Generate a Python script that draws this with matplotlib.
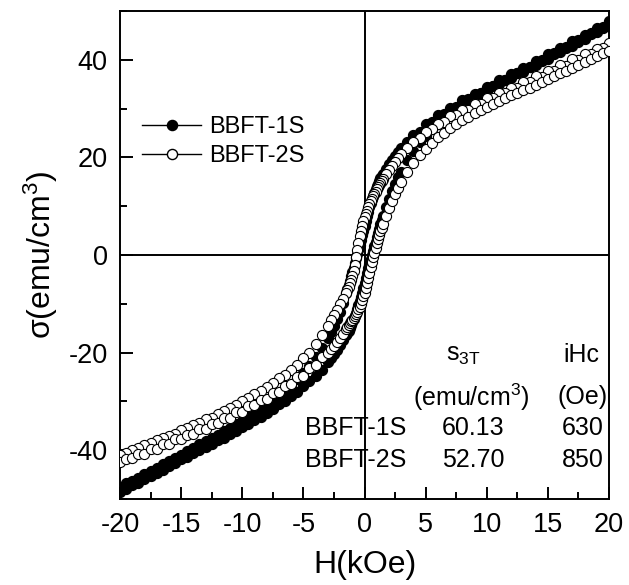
import numpy as np
import matplotlib
matplotlib.use('Agg')
import matplotlib.pyplot as plt
from matplotlib.lines import Line2D
from matplotlib.ticker import MultipleLocator

plt.rcParams['font.family'] = ['Liberation Sans', 'DejaVu Sans']
plt.rcParams['mathtext.fontset'] = 'custom'
plt.rcParams['mathtext.rm'] = 'Liberation Sans'
plt.rcParams['mathtext.it'] = 'Liberation Sans:italic'
plt.rcParams['axes.unicode_minus'] = False

# field sweep from +20 kOe down to -20 kOe (the up sweep is the same points reversed)
H_down = [20, 19.5, 19, 18.5, 18, 17.5, 17, 16.5, 16, 15.5, 15, 14.5, 14, 13.5, 13, 12.5,
          12, 11.5, 11, 10.5, 10, 9.5, 9, 8.5, 8, 7.5, 7, 6.5, 6, 5.5, 5, 4.5, 4, 3.5,
          3.0, 2.75, 2.5, 2.25, 2.0, 1.75,
          1.5, 1.4, 1.3, 1.2, 1.1, 1.0, 0.9, 0.8, 0.7, 0.6, 0.5, 0.4, 0.3, 0.2, 0.1, 0.0,
          -0.1, -0.2, -0.3, -0.4, -0.5, -0.6, -0.7, -0.8, -0.9, -1.0, -1.1, -1.2, -1.3, -1.4, -1.5,
          -1.75, -2.0, -2.25, -2.5, -2.75, -3.0,
          -3.5, -4, -4.5, -5, -5.5, -6, -6.5, -7, -7.5, -8, -8.5, -9, -9.5, -10, -10.5, -11,
          -11.5, -12, -12.5, -13, -13.5, -14, -14.5, -15, -15.5, -16, -16.5, -17, -17.5, -18,
          -18.5, -19, -19.5, -20]
H_up = H_down[::-1]

# BBFT-1S (filled circles)
s1_down = [47.9, 46.8, 46.6, 45.4, 45.1, 44.0, 43.8, 42.6, 42.5, 41.3, 41.1, 40.0, 39.8, 38.6,
           38.4, 37.3, 37.0, 35.9, 35.8, 34.6, 34.4, 33.2, 33.0, 31.9, 31.7, 30.4, 30.1, 28.9,
           28.6, 27.2, 26.8, 25.3, 24.6, 23.1,
           21.9, 21.2, 20.3, 19.5, 18.7, 17.6,
           16.6, 16.2, 15.7, 15.2, 14.6, 14.1, 13.5, 12.8, 12.1, 11.4, 10.6, 9.8, 8.9, 8.0, 7.0, 6.0,
           5.0, 4.0, 3.0, 2.0, 1.1, 0.2, -0.7, -1.7, -2.6, -3.5, -4.4, -5.3, -6.2, -7.0, -7.8,
           -9.8, -11.6, -13.1, -14.5, -15.8, -17.0,
           -19.0, -21.0, -22.7, -24.2, -25.4, -26.8, -28.0, -29.0, -29.9, -30.8, -31.6, -32.6,
           -33.2, -34.1, -34.7, -35.4, -36.1, -36.8, -37.5, -38.2, -38.8, -39.5, -40.1, -40.9,
           -41.6, -42.2, -42.9, -43.6, -44.3, -44.9, -45.6, -46.3, -46.8, -47.5]
s1_up = [-48.5, -47.9, -47.2, -46.7, -45.9, -45.3, -44.6, -44.0, -43.2, -42.7, -41.9, -41.4,
         -40.6, -40.0, -39.3, -38.7, -37.9, -37.4, -36.6, -36.0, -35.2, -34.7, -33.8, -33.2,
         -32.3, -31.6, -30.6, -29.9, -28.9, -28.0, -26.9, -25.9, -24.7, -23.5,
         -21.9, -21.1, -20.3, -19.4, -18.5, -17.5,
         -16.4, -16.0, -15.5, -15.0, -14.4, -13.8, -13.2, -12.5, -11.8, -11.1, -10.3, -9.5, -8.6,
         -7.7, -6.7, -5.7, -4.7, -3.7, -2.7, -1.8, -0.9, -0.1, 0.8, 1.8, 2.7, 3.6, 4.5, 5.4, 6.3,
         7.1, 7.9,
         9.8, 11.5, 13.1, 14.5, 15.9, 17.1,
         19.4, 21.4, 23.1, 24.4, 25.9, 26.9, 28.2, 29.0, 30.1, 30.7, 31.7, 32.2, 33.2, 33.7,
         34.6, 35.0, 35.9, 36.3, 37.2, 37.6, 38.5, 38.9, 39.8, 40.2, 41.1, 41.6, 42.4, 42.9,
         43.7, 44.2, 45.2, 45.6, 46.5, 47.0]

# BBFT-2S (open circles)
s2_down = [43.4, 42.4, 42.3, 41.2, 41.1, 40.0, 40.1, 38.8, 38.9, 37.7, 37.7, 36.5, 36.6, 35.4,
           35.5, 34.3, 34.3, 33.2, 33.2, 32.1, 32.1, 31.0, 31.0, 29.8, 29.8, 28.6, 28.4, 27.3,
           26.9, 25.8, 25.2, 24.0, 23.2, 21.9,
           20.6, 19.9, 19.1, 18.3, 17.4, 16.5,
           15.5, 15.1, 14.7, 14.3, 13.9, 13.5, 13.0, 12.5, 12.0, 11.5, 11.0, 10.4, 9.8, 9.1, 8.4,
           7.7, 6.9, 6.0, 5.0, 3.8, 2.5, 1.0, -0.5, -2.0, -3.3, -4.3, -5.1, -5.8, -6.5, -7.1, -7.7,
           -9.0, -10.1, -11.2, -12.3, -13.4, -14.5,
           -16.4, -18.3, -20.0, -21.2, -22.5, -23.5, -24.5, -25.3, -26.3, -27.0, -27.9, -28.5,
           -29.4, -30.0, -30.7, -31.3, -32.0, -32.6, -33.3, -33.7, -34.4, -34.8, -35.5, -35.9,
           -36.6, -37.0, -37.6, -38.0, -38.6, -39.0, -39.6, -40.0, -40.6, -40.9]
s2_up = [-42.5, -41.7, -41.6, -40.7, -40.7, -39.8, -39.8, -38.8, -38.8, -37.8, -37.8, -36.8,
         -36.7, -35.7, -35.6, -34.6, -34.5, -33.4, -33.3, -32.2, -32.1, -31.0, -30.8, -29.7,
         -29.5, -28.3, -28.1, -26.8, -26.5, -25.1, -24.7, -23.2, -22.6, -21.0,
         -20.0, -19.3, -18.6, -17.8, -17.0, -16.1,
         -15.2, -14.8, -14.4, -14.0, -13.6, -13.3, -12.9, -12.5, -12.0, -11.6, -11.1, -10.6,
         -10.0, -9.3, -8.5, -7.7, -6.8, -5.8, -4.7, -3.6, -2.5, -1.4, -0.4, 0.5, 1.5, 2.4, 3.3,
         4.1, 4.9, 5.6, 6.3,
         8.0, 9.6, 11.0, 12.4, 13.7, 15.0,
         17.0, 18.8, 20.4, 21.8, 23.0, 24.1, 25.1, 26.0, 26.8, 27.6, 28.3, 29.0, 29.7, 30.3,
         30.9, 31.5, 32.1, 32.7, 33.2, 33.8, 34.3, 34.9, 35.4, 36.0, 36.6, 37.2, 37.7, 38.3,
         38.9, 39.5, 40.1, 40.7, 41.3, 41.9]

labels = ['BBFT-1S', 'BBFT-2S']
table_head = ['s$_{\\mathrm{3T}}$', 'iHc']
table_units = ['(emu/cm$^{3}$)', '(Oe)']
sigma_3T = ['60.13', '52.70']
iHc = ['630', '850']

fig = plt.figure(figsize=(6.29, 5.85), dpi=100)
ax = fig.add_axes([0.1908, 0.147, 0.7774, 0.8342])

ax.axhline(0, color='k', lw=1.4, zorder=1)
ax.axvline(0, color='k', lw=1.4, zorder=1)

ms = 7.3
ax.plot(H_down, s1_down, 'o', ms=ms, mfc='black', mec='black', mew=0.8, zorder=2)
ax.plot(H_up, s1_up, 'o', ms=ms, mfc='black', mec='black', mew=0.8, zorder=2)
ax.plot(H_down, s2_down, 'o', ms=ms, mfc='white', mec='black', mew=0.8, zorder=3)
ax.plot(H_up, s2_up, 'o', ms=ms, mfc='white', mec='black', mew=0.8, zorder=3)

ax.set_xlim(-20, 20)
ax.set_ylim(-50, 50)
ax.xaxis.set_major_locator(MultipleLocator(5))
ax.xaxis.set_minor_locator(MultipleLocator(2.5))
ax.yaxis.set_major_locator(MultipleLocator(20))
ax.yaxis.set_minor_locator(MultipleLocator(10))
ax.tick_params(which='both', direction='in', width=1.4, labelsize=19.5, pad=9)
ax.tick_params(which='major', length=9)
ax.tick_params(which='minor', length=5)
for sp in ax.spines.values():
    sp.set_linewidth(1.4)

ax.set_xlabel('H(kOe)', fontsize=23, labelpad=9)
ax.set_ylabel('σ(emu/cm$^{3}$)', fontsize=23, labelpad=6)

handles = [Line2D([], [], color='k', lw=1, marker='o', ms=ms, mfc='black', mec='black'),
           Line2D([], [], color='k', lw=1, marker='o', ms=ms, mfc='white', mec='black')]
ax.legend(handles, labels, loc='upper left', bbox_to_anchor=(0.045, 0.785), frameon=False,
          fontsize=17, handlelength=2.5, handletextpad=0.35, labelspacing=0.3,
          borderpad=0, borderaxespad=0)

# inset table
fs = 18
ax.text(8.1, -20.5, table_head[0], fontsize=fs, ha='center', va='center')
ax.text(17.7, -20.5, table_head[1], fontsize=fs, ha='center', va='center')
ax.text(8.75, -29.1, table_units[0], fontsize=fs, ha='center', va='center')
ax.text(17.8, -29.1, table_units[1], fontsize=fs, ha='center', va='center')
for i, y in enumerate([-35.5, -42.0]):
    ax.text(-4.9, y, labels[i], fontsize=fs, ha='left', va='center')
    ax.text(8.9, y, sigma_3T[i], fontsize=fs, ha='center', va='center')
    ax.text(19.6, y, iHc[i], fontsize=fs, ha='right', va='center')

fig.savefig('out.png', dpi=100)
